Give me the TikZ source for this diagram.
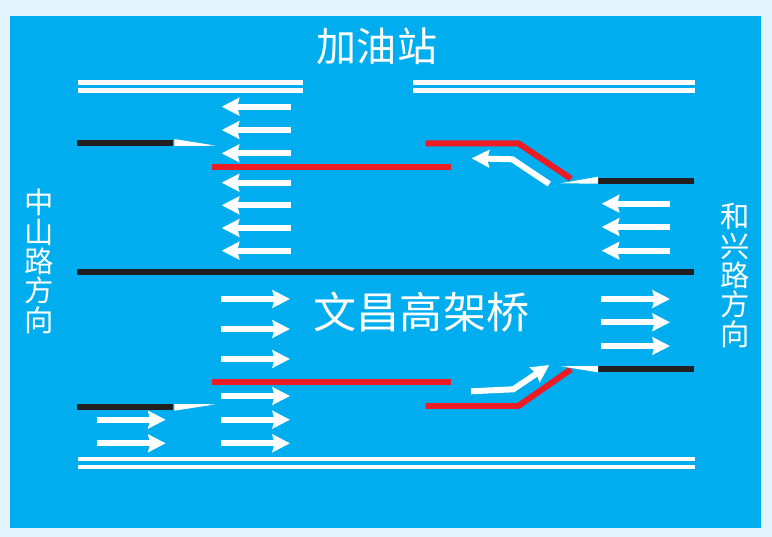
\documentclass[tikz,border=0pt]{standalone}
\usepackage{fontspec}
\setmainfont{Noto Sans CJK SC}
\usetikzlibrary{arrows.meta}
\definecolor{palesky}{RGB}{225,243,251}
\definecolor{roadblue}{RGB}{0,173,239}
\definecolor{linered}{RGB}{237,28,36}
\definecolor{lineblack}{RGB}{35,31,32}
\tikzset{
  edgeline/.style={white,line width=0.09cm},
  redline/.style={linered,line width=0.12cm,line join=miter},
  blackline/.style={lineblack,line width=0.12cm},
  lanearrow/.style={white,line width=0.12cm,-{Stealth[length=0.35cm,width=0.35cm,inset=0.04cm]}},
  bigtext/.style={white,font=\fontsize{24.5}{24.5}\selectfont},
  sidetext/.style={white,align=center,inner sep=0pt,font=\fontsize{16.7}{16.7}\selectfont}
}
\begin{document}
\begin{tikzpicture}[x=0.02cm,y=-0.02cm]
            % ground
            \fill[palesky] (0,0) rectangle (772,537);
            \fill[roadblue] (10,16) rectangle (761,528);

            % labels
            \node[bigtext,font=\fontsize{22.8}{22.8}\selectfont] (station) at (377,46) {加油站};
            \node[bigtext] (bridge) at (421.5,312) {文昌高架桥};
            \node[sidetext] (westroad) at (39,261.5) {中\\山\\路\\方\\向};
            \node[sidetext] (eastroad) at (735,275.5) {和\\兴\\路\\方\\向};

            % road edges
            \foreach \y in {82.7,90.3} {
                \draw[edgeline] (78.3,\y) -- (303,\y);
                \draw[edgeline] (413,\y) -- (695,\y);
            }
            \foreach \y in {459,467} {
                \draw[edgeline] (78.3,\y) -- (695,\y);
            }

            % black lines
            \draw[blackline] (76.7,142.7) -- (172.7,142.7);
            \draw[blackline] (598,180.7) -- (694,180.7);
            \draw[blackline] (77,272) -- (694,272);
            \draw[blackline] (598,368.7) -- (694,368.7);
            \draw[blackline] (76.7,407) -- (172.7,407);

            % red lines
            \draw[redline] (211.7,167) -- (451.3,167);
            \draw[redline] (211.7,382) -- (451.3,382);
            \draw[redline] (425.7,143.3) -- (518.3,143.3) -- (571,178.7);
            \draw[redline] (425.7,406) -- (518.3,406) -- (571,369.3);

            % wedges
            \fill[white] (174.3,139) -- (216,145.7) -- (174.3,146) -- cycle;
            \fill[white] (174.3,410.7) -- (216,404.3) -- (174.3,404) -- cycle;
            \fill[white] (598,176.7) -- (560.7,183.3) -- (598,183.7) -- cycle;
            \fill[white] (598,372.3) -- (560.7,366.3) -- (598,366) -- cycle;

            % arrows
            \foreach \y in {106.7,130,153.3,182.7,205.3,228,250.7} {
                \draw[lanearrow] (290.7,\y) -- (221.7,\y);
            }
            \foreach \y in {203.7,227,250.7} {
                \draw[lanearrow] (670,\y) -- (601.7,\y);
            }
            \foreach \y in {299,329,359,396,419.7,443.3} {
                \draw[lanearrow] (221.3,\y) -- (290,\y);
            }
            \foreach \y in {419.7,443.3} {
                \draw[lanearrow] (96.7,\y) -- (165.7,\y);
            }
            \foreach \y in {299,322.3,346} {
                \draw[lanearrow] (601,\y) -- (670,\y);
            }
            \draw[lanearrow] (549.3,184) -- (512.3,159.3) -- (471.7,158.3);
            \draw[lanearrow] (471,391.3) -- (513.3,389.3) -- (549.3,365);
\end{tikzpicture}
\end{document}
